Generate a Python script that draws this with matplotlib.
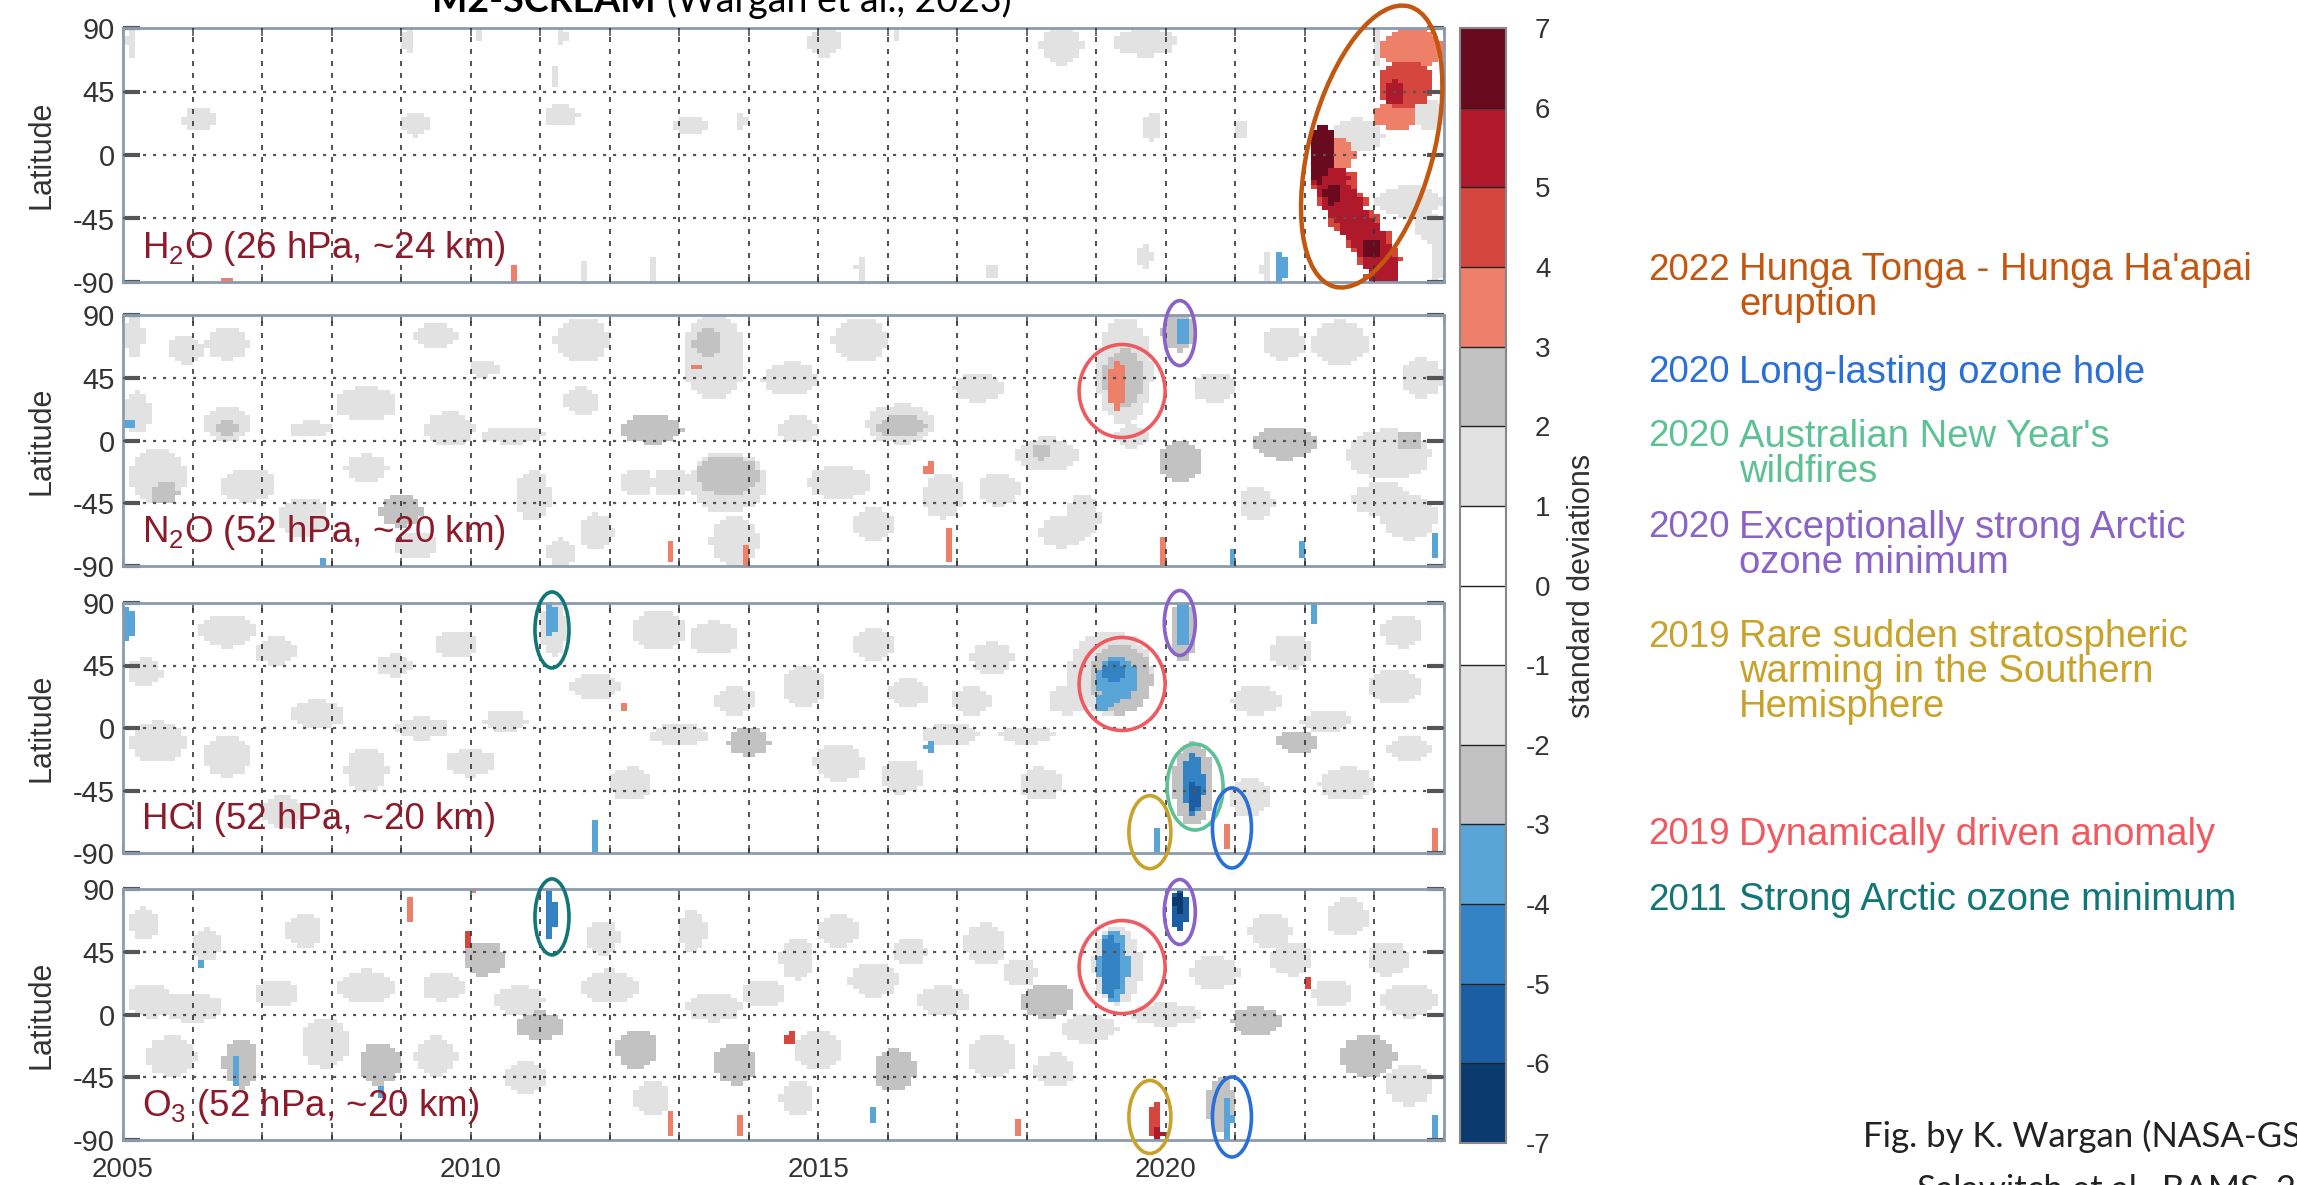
import numpy as np
import matplotlib
matplotlib.use("Agg")
import matplotlib.pyplot as plt
from matplotlib.colors import ListedColormap, BoundaryNorm
from matplotlib.patches import Ellipse
from matplotlib.transforms import IdentityTransform
import matplotlib.cm as cm

plt.rcParams['font.family'] = ['Liberation Sans', 'DejaVu Sans']
plt.rcParams['axes.unicode_minus'] = False
plt.rcParams['mathtext.fontset'] = 'custom'
plt.rcParams['mathtext.rm'] = 'Liberation Sans'
plt.rcParams['mathtext.it'] = 'Liberation Sans:italic'
plt.rcParams['mathtext.default'] = 'regular'

# ---------------- data ----------------
year_start, year_end = 2005, 2024
year_labels = [2005, 2010, 2015, 2020]
lat_ticks = [90, 45, 0, -45, -90]
levels = list(range(-7, 8))
level_colors = ['#0b3a6f', '#1c5ea4', '#3282c4', '#5aa5d8', '#c2c2c2', '#e2e2e2',
                '#ffffff', '#ffffff', '#e2e2e2', '#c2c2c2', '#ee7f68', '#d5463f',
                '#b0182b', '#6a0a1e']

panel_labels = ['H$_2$O (26 hPa, ~24 km)', 'N$_2$O (52 hPa, ~20 km)',
                'HCl (52 hPa, ~20 km)', 'O$_3$ (52 hPa, ~20 km)']

# anomaly patches: (year, latitude, half-span yr, half-span deg, std-dev)
h2o_blobs = [
    (2005.1, 80, 0.06, 12, 1.5), (2006.1, 25, 0.25, 8, 1.5), (2006.5, -88, 0.05, 3, 3.5),
    (2009.1, 82, 0.07, 10, 1.5), (2009.2, 22, 0.2, 9, 1.5), (2010.1, 85, 0.05, 6, 1.5),
    (2010.6, -84, 0.05, 7, 3.5), (2011.3, 84, 0.08, 7, 1.5), (2011.3, 28, 0.25, 8, 1.5),
    (2011.2, 56, 0.06, 7, 1.5), (2011.6, -82, 0.05, 8, 1.5), (2012.6, -80, 0.05, 10, 1.5),
    (2013.2, 21, 0.25, 6, 1.5), (2013.9, 24, 0.1, 5, 1.5), (2015.1, 80, 0.25, 10, 1.5),
    (2015.6, -80, 0.06, 10, 1.5), (2016.1, 85, 0.05, 6, 1.5), (2017.5, -83, 0.05, 7, 1.5),
    (2018.5, 77, 0.3, 13, 1.5), (2019.7, 80, 0.45, 10, 1.5), (2019.8, 20, 0.15, 10, 1.5),
    (2019.7, -72, 0.1, 10, 1.5), (2021.1, 18, 0.1, 7, 1.5), (2021.45, -80, 0.08, 10, 1.5),
    (2021.65, -80, 0.1, 10, -3.5),
    # Hunga Tonga - Hunga Ha'apai plume
    (2022.75, 14, 0.38, 12, 1.5), (2023.5, -33, 0.5, 11, 1.5), (2023.8, -52, 0.22, 10, 1.5),
    (2023.9, -72, 0.1, 18, 1.5), (2023.8, 28, 0.25, 10, 1.5), (2023.05, 76, 0.06, 13, 1.5),
    (2022.5, 0, 0.22, 12, 3.5),
    (2022.4, -18, 0.36, 9, 4.5), (2022.55, -33, 0.36, 9, 4.5), (2022.72, -47, 0.36, 9, 4.5),
    (2022.9, -60, 0.36, 9, 4.5), (2023.05, -73, 0.33, 9, 4.5), (2023.12, -85, 0.25, 7, 4.5),
    (2022.25, 0, 0.2, 22, 6.5),
    (2022.35, -16, 0.28, 8, 5.5), (2022.45, -26, 0.28, 8, 5.5), (2022.55, -35, 0.28, 8, 5.5),
    (2022.65, -43, 0.28, 8, 5.5), (2022.77, -51, 0.28, 8, 5.5), (2022.9, -59, 0.28, 8, 5.5),
    (2023.0, -67, 0.28, 8, 5.5), (2023.08, -75, 0.25, 8, 5.5), (2023.13, -83, 0.22, 8, 5.5),
    (2023.12, -89, 0.18, 5, 5.5),
    (2022.2, -8, 0.12, 12, 6.5), (2022.4, -28, 0.12, 7, 6.5), (2022.95, -66, 0.13, 7, 6.5),
    (2023.55, 75, 0.45, 15, 3.5), (2023.3, 28, 0.32, 10, 3.5), (2023.45, 50, 0.4, 17, 4.5),
    (2023.3, 44, 0.15, 9, 5.5),
]

n2o_blobs = [
    (2005.15, 75, 0.15, 15, 1.5), (2005.2, 20, 0.2, 15, 1.5), (2005.5, -25, 0.4, 20, 1.5),
    (2005.6, -38, 0.2, 8, 2.5), (2006.5, 70, 0.3, 12, 1.5), (2006.5, 12, 0.35, 12, 1.5),
    (2006.5, 10, 0.15, 6, 2.5), (2006.8, -32, 0.4, 12, 1.5), (2007.6, -55, 0.35, 14, 1.5),
    (2008.5, 26, 0.45, 12, 1.5), (2008.5, -20, 0.3, 10, 1.5), (2009.0, -50, 0.3, 12, 2.5),
    (2009.7, 8, 0.35, 12, 1.5), (2010.6, 4, 0.45, 6, 1.5), (2010.9, -40, 0.25, 18, 1.5),
    (2011.6, 72, 0.4, 16, 1.5), (2011.6, 28, 0.25, 10, 1.5), (2011.3, -80, 0.2, 10, 1.5),
    (2012.6, 8, 0.45, 10, 2.5), (2012.9, -30, 0.3, 10, 1.5), (2013.5, 60, 0.45, 30, 1.5),
    (2013.4, 70, 0.2, 10, 2.5), (2013.7, -30, 0.55, 22, 1.5), (2013.7, -25, 0.45, 14, 2.5),
    (2013.8, -72, 0.35, 18, 1.5), (2014.6, 44, 0.4, 12, 1.5), (2015.3, -30, 0.45, 12, 1.5),
    (2015.6, 72, 0.4, 16, 1.5), (2016.2, 12, 0.5, 14, 1.5), (2016.2, 10, 0.35, 8, 2.5),
    (2016.8, -40, 0.3, 16, 1.5), (2017.3, 38, 0.35, 10, 1.5), (2018.3, -10, 0.45, 12, 1.5),
    (2018.2, -8, 0.15, 6, 2.5), (2018.8, -55, 0.25, 16, 1.5), (2019.4, 50, 0.4, 38, 1.5),
    (2019.4, 45, 0.3, 20, 2.5), (2020.2, 78, 0.25, 14, 2.5), (2020.2, -15, 0.3, 15, 2.5),
    (2021.7, -2, 0.45, 12, 2.5), (2022.5, 70, 0.4, 16, 1.5), (2023.2, -10, 0.6, 18, 1.5),
    (2023.5, 0, 0.2, 6, 2.5), (2023.1, -42, 0.4, 12, 1.5), (2023.7, 45, 0.3, 14, 1.5),
    (2005.9, 65, 0.25, 10, 1.5), (2009.5, 75, 0.3, 9, 1.5), (2010.2, 52, 0.2, 6, 1.5),
    (2012.4, -30, 0.25, 10, 1.5), (2011.8, -65, 0.25, 13, 1.5), (2015.8, -60, 0.3, 12, 1.5),
    (2017.6, -35, 0.3, 12, 1.5), (2018.5, -65, 0.3, 12, 1.5), (2020.7, 38, 0.3, 11, 1.5),
    (2021.7, 70, 0.3, 12, 1.5), (2021.3, -45, 0.25, 12, 1.5), (2023.5, -55, 0.4, 16, 1.5),
    (2014.7, 8, 0.3, 9, 1.5), (2007.7, 8, 0.3, 6, 1.5), (2009.2, -75, 0.3, 10, 1.5),
    (2019.5, 3, 0.25, 8, 1.5),
    (2019.3, 40, 0.12, 18, 3.5), (2020.25, 78, 0.12, 8, -3.5), (2005.08, 12, 0.06, 5, -3.5),
    (2013.25, 53, 0.04, 6, 3.5), (2016.6, -20, 0.08, 4, 3.5), (2012.9, -80, 0.04, 10, 3.5),
    (2013.95, -82, 0.04, 8, 3.5), (2016.9, -75, 0.04, 14, 3.5), (2019.95, -80, 0.04, 10, 3.5),
    (2007.9, -87, 0.05, 4, -3.5), (2020.95, -84, 0.05, 7, -3.5), (2021.95, -77, 0.04, 6, -3.5),
    (2023.9, -75, 0.05, 10, -3.5),
]

hcl_blobs = [
    (2006.5, 70, 0.4, 12, 1.5), (2005.5, -10, 0.4, 15, 1.5), (2006.5, -20, 0.35, 15, 1.5),
    (2007.8, 10, 0.4, 10, 1.5), (2008.5, -30, 0.3, 15, 1.5), (2009.3, 0, 0.4, 8, 1.5),
    (2010.0, -25, 0.35, 10, 1.5), (2010.5, 5, 0.3, 8, 1.5), (2012.7, 70, 0.4, 14, 1.5),
    (2013.5, 65, 0.35, 12, 1.5), (2013.0, -5, 0.4, 8, 1.5), (2014.0, -10, 0.3, 10, 2.5),
    (2014.8, 30, 0.3, 15, 1.5), (2015.3, -25, 0.35, 14, 1.5), (2016.3, 25, 0.3, 10, 1.5),
    (2016.9, -5, 0.4, 8, 1.5), (2017.5, 50, 0.3, 12, 1.5), (2018.0, -5, 0.4, 6, 1.5),
    (2018.2, -40, 0.3, 12, 1.5), (2021.3, 20, 0.35, 10, 1.5), (2021.9, -10, 0.3, 8, 2.5),
    (2022.6, -40, 0.4, 12, 1.5), (2023.3, 30, 0.4, 12, 1.5), (2023.5, -15, 0.3, 10, 1.5),
    (2005.3, 40, 0.25, 10, 1.5), (2007.2, 55, 0.3, 10, 1.5), (2008.9, 45, 0.25, 8, 1.5),
    (2009.8, 60, 0.3, 10, 1.5), (2011.8, 30, 0.35, 10, 1.5), (2012.3, -40, 0.3, 12, 1.5),
    (2013.8, 20, 0.3, 10, 1.5), (2015.8, 60, 0.3, 12, 1.5), (2016.2, -35, 0.3, 12, 1.5),
    (2017.2, 20, 0.3, 10, 1.5), (2018.6, 20, 0.3, 10, 1.5), (2021.8, 55, 0.3, 12, 1.5),
    (2022.3, 5, 0.35, 8, 1.5), (2023.4, 70, 0.3, 12, 1.5), (2021.2, -50, 0.3, 14, 1.5),
    (2007.3, -60, 0.3, 12, 1.5),
    (2011.2, 72, 0.2, 20, 1.5), (2020.25, 70, 0.2, 22, 2.5), (2019.2, 40, 0.6, 30, 1.5),
    (2019.35, 35, 0.45, 25, 2.5), (2020.4, -40, 0.3, 30, 2.5),
    (2005.08, 75, 0.06, 15, -3.5), (2011.15, 78, 0.08, 12, -3.5), (2020.25, 75, 0.12, 15, -3.5),
    (2019.3, 35, 0.3, 16, -3.5), (2019.25, 40, 0.15, 8, -4.5), (2019.1, 18, 0.12, 6, -3.5),
    (2020.4, -40, 0.15, 22, -4.5), (2020.4, -50, 0.1, 10, -5.5), (2019.85, -80, 0.05, 10, -3.5),
    (2020.85, -78, 0.05, 10, 3.5), (2011.8, -78, 0.04, 12, -3.5), (2016.6, -14, 0.06, 5, -3.5),
    (2022.1, 82, 0.05, 8, -3.5), (2023.9, -80, 0.05, 10, 3.5), (2012.2, 15, 0.06, 4, 3.5),
]

o3_blobs = [
    (2005.4, 10, 0.35, 12, 1.5), (2006.2, 50, 0.2, 12, 1.5), (2006.0, 5, 0.45, 10, 1.5),
    (2005.7, -30, 0.35, 15, 1.5), (2006.7, -35, 0.25, 18, 2.5), (2007.2, 15, 0.3, 10, 1.5),
    (2007.9, -20, 0.35, 18, 1.5), (2008.5, 20, 0.4, 12, 1.5), (2008.7, -35, 0.3, 15, 2.5),
    (2009.5, -30, 0.3, 14, 1.5), (2010.2, 40, 0.3, 12, 2.5), (2010.7, 10, 0.35, 10, 1.5),
    (2011.0, -8, 0.35, 10, 2.5), (2012.0, 20, 0.4, 12, 1.5), (2012.4, -25, 0.3, 14, 2.5),
    (2013.2, 60, 0.2, 15, 1.5), (2013.5, 5, 0.4, 10, 1.5), (2013.8, -35, 0.3, 15, 2.5),
    (2014.7, 40, 0.25, 15, 1.5), (2015.0, -25, 0.35, 14, 1.5), (2015.8, 25, 0.35, 12, 1.5),
    (2016.1, -40, 0.3, 15, 2.5), (2016.8, 10, 0.4, 10, 1.5), (2017.4, 50, 0.3, 15, 1.5),
    (2017.5, -30, 0.35, 15, 1.5), (2018.3, 10, 0.4, 12, 2.5), (2018.9, -10, 0.4, 10, 1.5),
    (2020.7, 30, 0.35, 12, 1.5), (2021.3, -5, 0.35, 10, 2.5), (2021.8, 40, 0.3, 12, 1.5),
    (2022.6, 70, 0.3, 14, 1.5), (2022.9, -30, 0.4, 15, 2.5), (2023.5, 10, 0.4, 12, 1.5),
    (2023.5, -50, 0.35, 15, 1.5), (2020.0, 0, 0.5, 8, 1.5), (2020.8, -65, 0.2, 20, 2.5),
    (2019.3, 35, 0.35, 28, 1.5),
    (2005.3, 65, 0.2, 12, 1.5), (2007.6, 60, 0.25, 12, 1.5), (2009.6, 20, 0.3, 10, 1.5),
    (2011.9, 55, 0.25, 12, 1.5), (2012.6, -60, 0.25, 12, 1.5), (2014.2, 15, 0.3, 10, 1.5),
    (2015.3, 60, 0.3, 12, 1.5), (2016.3, 45, 0.25, 10, 1.5), (2017.9, 30, 0.25, 10, 1.5),
    (2018.4, -40, 0.3, 12, 1.5), (2021.5, 60, 0.3, 12, 1.5), (2022.4, 15, 0.3, 10, 1.5),
    (2023.2, 40, 0.3, 12, 1.5), (2010.8, -45, 0.3, 12, 1.5), (2014.7, -60, 0.25, 12, 1.5),
    (2011.15, 72, 0.07, 18, -4.5), (2009.1, 75, 0.05, 12, 3.5), (2009.95, 55, 0.06, 6, 4.5),
    (2010.05, 88, 0.04, 2, 3.5), (2006.15, 37, 0.04, 4, -3.5), (2006.6, -40, 0.05, 12, -3.5),
    (2008.7, -55, 0.05, 5, -3.5), (2012.85, -78, 0.05, 12, 3.5), (2013.9, -80, 0.04, 10, 3.5),
    (2017.9, -82, 0.04, 8, 3.5), (2014.6, -17, 0.07, 5, 4.5), (2022.05, 22, 0.05, 4, 4.5),
    (2015.8, -72, 0.04, 6, -3.5), (2023.9, -80, 0.05, 10, -3.5),
    (2019.25, 35, 0.22, 25, -3.5), (2019.2, 35, 0.15, 22, -4.5),
    (2020.2, 75, 0.12, 14, -5.5), (2020.2, 80, 0.08, 8, -6.5),
    (2019.85, -77, 0.1, 14, 4.5), (2019.9, -85, 0.06, 6, 5.5), (2020.9, -75, 0.06, 15, -3.5),
]

panel_blobs = [h2o_blobs, n2o_blobs, hcl_blobs, o3_blobs]

event_years = ['2022', '2020', '2020', '2020', '2019', '2019', '2011']
event_lines = [["Hunga Tonga - Hunga Ha'apai", 'eruption'], ['Long-lasting ozone hole'],
               ["Australian New Year's", 'wildfires'], ['Exceptionally strong Arctic', 'ozone minimum'],
               ['Rare sudden stratospheric', 'warming in the Southern', 'Hemisphere'],
               ['Dynamically driven anomaly'], ['Strong Arctic ozone minimum']]
event_colors = ['#c4570f', '#2a6fd8', '#5cc195', '#8a63c9', '#c9a22a', '#ef5a60', '#137676']

# annotation rings: (panel, year, latitude, event index)
ring_panel = [0, 1, 1, 2, 2, 2, 2, 2, 2, 3, 3, 3, 3, 3]
ring_year = [2022.96, 2020.2, 2019.37, 2011.17, 2020.2, 2019.37, 2020.42, 2019.77, 2020.95,
             2011.17, 2020.2, 2019.37, 2019.77, 2020.95]
ring_lat = [6, 77, 35.5, 70.6, 75.6, 31.7, -42.5, -75, -72, 70, 73.5, 34, -73.5, -73.5]
ring_event = [0, 3, 5, 6, 3, 5, 2, 4, 1, 6, 3, 5, 4, 1]

# ---------------- figure ----------------
W, H = 2297, 1185
fig = plt.figure(figsize=(W / 100, H / 100), dpi=100)

cmap = ListedColormap(level_colors)
norm = BoundaryNorm(levels, cmap.N)

t_edges = year_start + np.arange(0, (year_end - year_start) * 12 + 1) / 12.0
lat_edges = np.arange(-90, 91, 3)
tc = 0.5 * (t_edges[:-1] + t_edges[1:])
lc = 0.5 * (lat_edges[:-1] + lat_edges[1:])
T, L = np.meshgrid(tc, lc)


def build(blobs):
    Z = np.zeros(T.shape)
    for (t, la, dt, dl, v) in blobs:
        dt = max(dt, 1 / 24 + 1e-3)
        dl = max(dl, 1.6)
        m = ((T - t) / dt) ** 2 + ((L - la) / dl) ** 2 <= 1
        Z[m] = v
    return Z


px_left, px_right = 123, 1444
panel_px = [(28, 282), (315, 566), (603, 853), (889, 1140)]
axes = []
for i, (top, bot) in enumerate(panel_px):
    ax = fig.add_axes([px_left / W, 1 - bot / H, (px_right - px_left) / W, (bot - top) / H])
    axes.append(ax)
    ax.pcolormesh(t_edges, lat_edges, build(panel_blobs[i]), cmap=cmap, norm=norm,
                  shading='flat')
    ax.set_xlim(year_start, year_end)
    ax.set_ylim(-90, 90)
    for yr in range(year_start + 1, year_end):
        ax.axvline(yr, color='#333333', lw=1.2, ls=(0, (3, 4.2)), zorder=3)
    for la in (45, 0, -45):
        ax.axhline(la, color='#555555', lw=1.6, ls=(0, (1.4, 3.1)), zorder=3)
    ax.set_yticks(lat_ticks)
    ax.set_yticklabels([str(v) for v in lat_ticks])
    ax.tick_params(axis='y', direction='in', length=12, width=3, color='#555555',
                   left=True, right=True, labelsize=21, labelcolor='#333333', pad=6)
    ax.set_xticks(range(year_start, year_end + 1))
    ax.set_xticklabels([str(y) if y in year_labels else '' for y in range(year_start, year_end + 1)])
    ax.tick_params(axis='x', direction='in', length=6, width=1.2, color='#555555',
                   top=True, bottom=True, labelsize=20, labelcolor='#333333', pad=12,
                   labelbottom=(i == 3))
    for s in ax.spines.values():
        s.set_color('#8a9bb0')
        s.set_linewidth(2)
    ax.set_ylabel('Latitude', fontsize=22, color='#333333', labelpad=12)
    ax.text(0.0144, 0.095, panel_labels[i], transform=ax.transAxes, fontsize=26.5,
            color='#8c1a2b', ha='left', va='baseline', zorder=5)

# colorbar
cax = fig.add_axes([1460 / W, 1 - 1143 / H, 46 / W, 1115 / H])
sm = cm.ScalarMappable(norm=norm, cmap=cmap)
cb = fig.colorbar(sm, cax=cax, ticks=levels, drawedges=True)
cb.outline.set_edgecolor('#888888')
cb.outline.set_linewidth(1.5)
cb.dividers.set_color('#222222')
cb.dividers.set_linewidth(1.0)
cax.tick_params(length=0, labelsize=20, labelcolor='#333333', pad=32)
for lab in cax.get_yticklabels():
    lab.set_ha('right')
cb.set_label('standard deviations', fontsize=22, color='#333333', labelpad=12)

# annotation rings (pixel sizes)
ring_size = {0: (124, 290, -15), 1: (39, 80, 0), 2: (56, 86, 0), 3: (31, 65, 0),
             4: (42, 73, 0), 5: (86, 93, 0), 6: (34, 76, 0)}
fig.canvas.draw()
for p, yr, la, ev in zip(ring_panel, ring_year, ring_lat, ring_event):
    cx, cy = axes[p].transData.transform((yr, la))
    w, h, ang = ring_size[ev]
    e = Ellipse((cx, cy), w, h, angle=ang, fill=False, edgecolor=event_colors[ev],
                lw=3.2 if ev == 0 else 2.6, transform=IdentityTransform(), zorder=10)
    fig.add_artist(e)

# event legend (first-line centre, pixels from top)
legend_y = [270, 373, 437, 528, 637, 835, 900]
line_step = 35
for yr, lines, col, yy in zip(event_years, event_lines, event_colors, legend_y):
    fig.text(1648 / W, 1 - yy / H, yr, fontsize=26.5, color=col, ha='left', va='center')
    for k, ln in enumerate(lines):
        fig.text(1739 / W, 1 - (yy + k * line_step) / H, ln, fontsize=27.5, color=col,
                 ha='left', va='center')

# title (partly cut at top) and credit
fig.text(656 / W, 1 - 12 / H, 'M2-SCREAM', fontsize=27, fontweight='bold',
         family=['Lato', 'DejaVu Sans'], ha='right', va='baseline', color='black')
fig.text(667 / W, 1 - 12 / H, '(Wargan et al., 2023)', fontsize=27,
         family=['Lato', 'DejaVu Sans'], ha='left', va='baseline', color='black')
fig.text(1863 / W, 1 - 1147 / H, 'Fig. by K. Wargan (NASA-GSFC)', fontsize=25,
         family=['Lato', 'DejaVu Sans'], ha='left', va='baseline', color='#222222')
fig.text(1917 / W, 1 - 1199 / H, 'Salawitch et al., BAMS, 2024', fontsize=25,
         family=['Lato', 'DejaVu Sans'], ha='left', va='baseline', color='#222222')

fig.savefig('out.png', dpi=100)
